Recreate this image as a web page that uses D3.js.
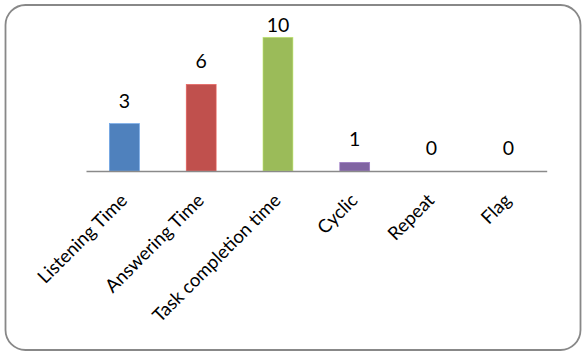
<!DOCTYPE html>
<html>
<head>
<meta charset="utf-8">
<script src="https://cdn.jsdelivr.net/npm/d3@7/dist/d3.min.js"></script>
<style>
  html, body { margin: 0; padding: 0; background: #fff; }
  svg { display: block; }
</style>
</head>
<body>
<svg id="chart" width="582" height="352"></svg>
<script>
// ---- data ----
const categories = ["Listening Time", "Answering Time", "Task completion time", "Cyclic", "Repeat", "Flag"];
const values = [3.43, 6.28, 9.69, 0.63, 0, 0];
const colors = ["#4F81BD", "#C0504D", "#9BBB59", "#8064A2", "#4BACC6", "#F79646"];
const yMax = 12;

const svg = d3.select("#chart");

// outer rounded frame
svg.append("rect")
  .attr("x", 5.5).attr("y", 5)
  .attr("width", 575).attr("height", 345)
  .attr("rx", 20).attr("ry", 20)
  .attr("fill", "#fff")
  .attr("stroke", "#888888")
  .attr("stroke-width", 1.8);

const plot = { left: 86, right: 546.7, bottom: 171 };

const x = d3.scaleBand()
  .domain(categories)
  .range([plot.left, plot.right])
  .paddingInner(0.61)
  .paddingOuter(0.305);

const y = d3.scaleLinear()
  .domain([0, yMax])
  .range([plot.bottom, plot.bottom - 13.8 * yMax]);

const data = categories.map((c, i) => ({ c, v: values[i], col: colors[i] }));

// bars
svg.append("g").selectAll("rect")
  .data(data)
  .join("rect")
  .attr("x", d => x(d.c))
  .attr("y", d => y(d.v))
  .attr("width", x.bandwidth())
  .attr("height", d => y(0) - y(d.v))
  .attr("fill", d => d.col)
  .attr("stroke", d => d3.color(d.col).brighter(0.6))
  .attr("stroke-width", 0.6);

// x axis (line only)
const xAxis = d3.axisBottom(x).tickSize(0).tickFormat("");
const gx = svg.append("g")
  .attr("transform", `translate(0,${plot.bottom})`)
  .call(xAxis);
gx.select(".domain").attr("stroke", "#8a8a8a").attr("stroke-width", 1.6);

// category labels
svg.append("g").selectAll("text")
  .data(data)
  .join("text")
  .attr("transform", d => `translate(${x(d.c) + x.bandwidth() / 2 + 4},201.5) rotate(-45)`)
  .attr("text-anchor", "end")
  .attr("font-family", "Lato, 'Open Sans', sans-serif")
  .attr("font-size", "18.5px")
  .attr("fill", "#000")
  .text(d => d.c);

// value labels
const fmt = d3.format(".0f");
svg.append("g").selectAll("text")
  .data(data)
  .join("text")
  .attr("x", d => x(d.c) + x.bandwidth() / 2)
  .attr("y", d => Math.max(y(d.v) - 16, 31.7))
  .attr("text-anchor", "middle")
  .attr("font-family", "Lato, 'Open Sans', sans-serif")
  .attr("font-size", "19.5px")
  .attr("fill", "#000")
  .text(d => fmt(d.v));
</script>
</body>
</html>
